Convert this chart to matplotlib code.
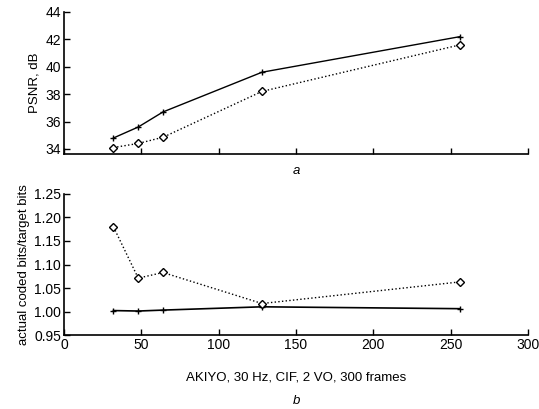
import matplotlib
matplotlib.use('Agg')
import matplotlib.pyplot as plt

plt.rcParams['font.family'] = ['Liberation Sans', 'DejaVu Sans']
plt.rcParams['font.size'] = 9

# target bit rate (kbit/s)
rates = [32, 48, 64, 128, 256]

# PSNR, dB
psnr_solid = [34.8, 35.6, 36.7, 39.6, 42.2]
psnr_dotted = [34.1, 34.4, 34.85, 38.2, 41.6]

# actual coded bits / target bits
ratio_solid = [1.002, 1.001, 1.003, 1.010, 1.006]
ratio_dotted = [1.18, 1.071, 1.083, 1.017, 1.063]

fig = plt.figure(figsize=(5.39, 4.09), dpi=100)
ax1 = fig.add_axes([0.1187, 0.6235, 0.861, 0.3472])
ax2 = fig.add_axes([0.1187, 0.1809, 0.861, 0.3448])

for ax in (ax1, ax2):
    for s in ('top', 'right'):
        ax.spines[s].set_visible(False)
    ax.spines['left'].set_linewidth(1.2)
    ax.spines['bottom'].set_linewidth(1.2)
    ax.tick_params(direction='in', length=4, width=1, colors='black',
                   labelsize=10, pad=2)
    ax.set_xlim(0, 300)
    ax.set_xticks(range(0, 301, 50))

ax1.plot(rates, psnr_solid, '-', color='black', lw=1, marker='+', ms=4)
ax1.plot(rates, psnr_dotted, ':', color='black', lw=1, marker='D', ms=4.5,
         mfc='white', mec='black')
ax1.set_ylim(33.63, 44)
ax1.set_yticks(range(34, 45, 2))
ax1.set_xticklabels([])
ax1.set_ylabel('PSNR, dB', fontsize=9.5, labelpad=4)
ax1.text(0.5, -0.12, 'a', transform=ax1.transAxes, ha='center', va='center',
         style='italic', fontsize=9.5)

ax2.plot(rates, ratio_solid, '-', color='black', lw=1.2, marker='+', ms=4)
ax2.plot(rates, ratio_dotted, ':', color='black', lw=1, marker='D', ms=4.5,
         mfc='white', mec='black')
ax2.set_ylim(0.95, 1.25)
ax2.set_yticks([0.95, 1.00, 1.05, 1.10, 1.15, 1.20, 1.25])
ax2.set_yticklabels(['%.2f' % v for v in ax2.get_yticks()])
ax2.set_ylabel('actual coded bits/target bits', fontsize=9.5, labelpad=3)
ax2.set_xlabel('AKIYO, 30 Hz, CIF, 2 VO, 300 frames', fontsize=9.5, labelpad=14)
ax2.text(0.5, -0.47, 'b', transform=ax2.transAxes, ha='center', va='center',
         style='italic', fontsize=9.5)

fig.savefig('out.png', dpi=100)
